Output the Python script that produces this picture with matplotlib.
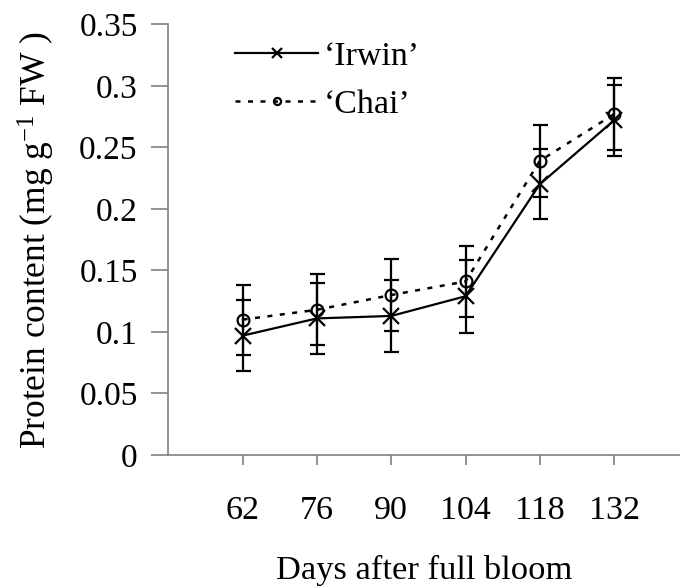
import matplotlib
matplotlib.use("Agg")
import matplotlib.pyplot as plt

days = ["62", "76", "90", "104", "118", "132"]
irwin = [0.097, 0.111, 0.113, 0.129, 0.220, 0.272]
irwin_err = [0.029, 0.029, 0.029, 0.0295, 0.0285, 0.029]
chai = [0.110, 0.118, 0.130, 0.141, 0.239, 0.277]
chai_err = [0.0285, 0.029, 0.029, 0.029, 0.029, 0.029]
yticks = [0, 0.05, 0.1, 0.15, 0.2, 0.25, 0.3, 0.35]
ytick_labels = ["0", "0.05", "0.1", "0.15", "0.2", "0.25", "0.3", "0.35"]

plt.rcParams['font.family'] = ['Liberation Serif', 'DejaVu Serif']
plt.rcParams['mathtext.fontset'] = 'custom'
plt.rcParams['mathtext.rm'] = 'Liberation Serif'
plt.rcParams['mathtext.it'] = 'Liberation Serif:italic'

fig = plt.figure(figsize=(6.8, 5.87), dpi=100)
ax = fig.add_axes([168.3/680, 1-455/587, 1-168.3/680, (455-24.3)/587])

x = list(range(len(days)))
ax.errorbar(x, irwin, yerr=irwin_err, color='black', lw=1.6, marker='x', ms=11,
            mew=1.6, capsize=5.4, capthick=1.6, elinewidth=1.6, label='\u2018Irwin\u2019', zorder=3)
ax.errorbar(x, chai, yerr=chai_err, color='black', lw=1.8, ls=(0, (2.0, 3.0)), marker='o', ms=8.5,
            mfc='none', mew=1.6, capsize=5.4, capthick=1.6, elinewidth=1.6, label='\u2018Chai\u2019', zorder=3)

ax.set_xlim(-1, (680-168.3)/74.3 - 1)
ax.set_ylim(0, 0.35)
ax.set_xticks(x)
ax.set_xticklabels(days)
ax.set_yticks(yticks)
ax.set_yticklabels(ytick_labels)

for s in ['top', 'right']:
    ax.spines[s].set_visible(False)
for s in ['left', 'bottom']:
    ax.spines[s].set_color('#808080')
    ax.spines[s].set_linewidth(1.2)

ax.tick_params(axis='y', direction='out', length=12, width=1.2, color='#808080', labelsize=24, pad=10)
ax.tick_params(axis='x', direction='out', length=7, width=1.2, color='#808080', labelsize=24.5, pad=22)

ax.set_xlabel('Days after full bloom', fontsize=24.8, labelpad=21)
ax.set_ylabel('Protein content (mg g$^{-1}$ FW )', fontsize=25.5, labelpad=16)

handles, labels = ax.get_legend_handles_labels()
handles = [h[0] for h in handles]
leg = ax.legend(handles, labels, loc='upper left', bbox_to_anchor=(235/680, 1-41/587),
                bbox_transform=fig.transFigure, frameon=False, fontsize=24.5,
                handlelength=2.45, handletextpad=0.15, labelspacing=0.5, markerscale=0.6,
                borderaxespad=0, borderpad=0)

fig.savefig('out.png', dpi=100)
